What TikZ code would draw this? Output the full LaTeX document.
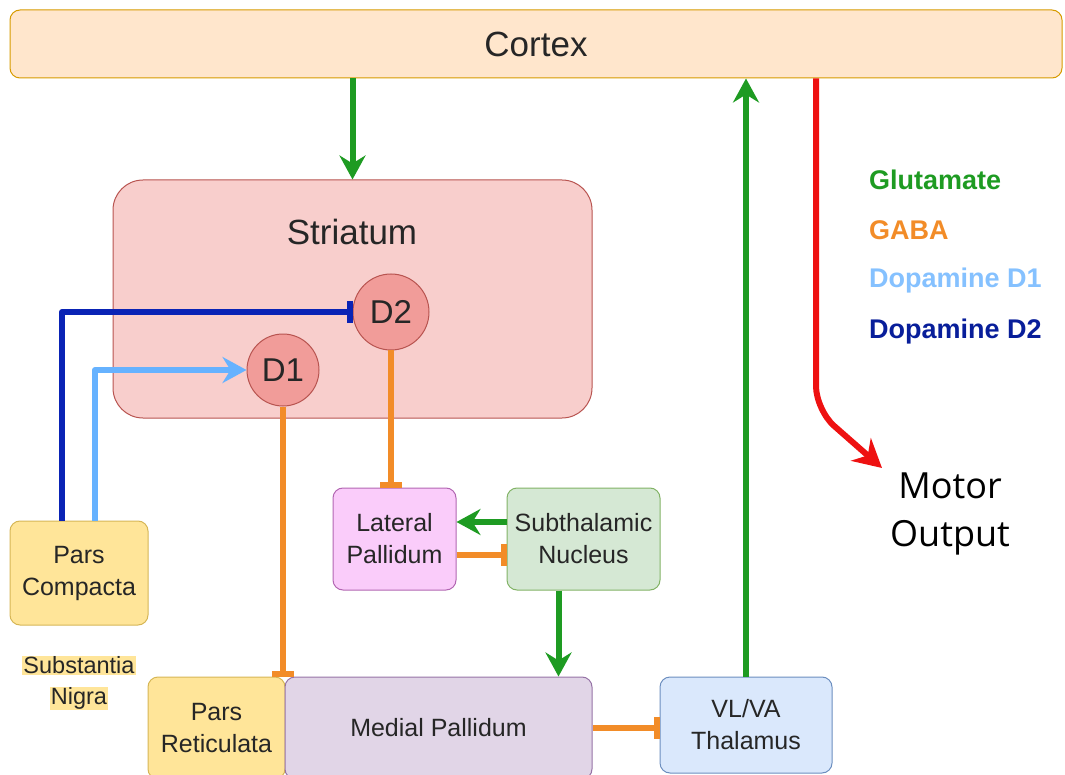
\documentclass[tikz,border=0pt]{standalone}
\usepackage{fontspec}
\setmainfont{Liberation Sans}
\newfontfamily\motorfont{Open Sans}
\usetikzlibrary{arrows.meta}
\definecolor{txt}{HTML}{262626}
\definecolor{cfill}{HTML}{FFE6CC}\definecolor{cline}{HTML}{D79B00}
\definecolor{sfill}{HTML}{F8CECC}\definecolor{sline}{HTML}{B85450}
\definecolor{dfill}{HTML}{F19C99}
\definecolor{yfill}{HTML}{FFE599}\definecolor{yline}{HTML}{D6B656}
\definecolor{mfill}{HTML}{E1D5E7}\definecolor{mline}{HTML}{9673A6}
\definecolor{lfill}{HTML}{FACCFA}\definecolor{lline}{HTML}{B266B2}
\definecolor{tfill}{HTML}{D5E8D4}\definecolor{tline}{HTML}{82B366}
\definecolor{vfill}{HTML}{DAE8FC}\definecolor{vline}{HTML}{6C8EBF}
\definecolor{cglu}{HTML}{1E9B22}
\definecolor{cgaba}{HTML}{F28C28}
\definecolor{cdone}{HTML}{66B2FF}
\definecolor{cdtwo}{HTML}{0A23B5}
\definecolor{cred}{HTML}{EE1111}
\setlength{\fboxsep}{1pt}
\begin{document}
\begin{tikzpicture}[x=1pt, y=-1pt, line join=round,
  box/.style={draw, line width=1pt, rounded corners=10pt, align=center, inner sep=0pt, text=txt, font=\fontsize{25}{32}\selectfont},
  cell/.style={draw=sline, fill=dfill, line width=1pt, circle, inner sep=0pt, text=txt, font=\fontsize{33}{36}\selectfont},
  key/.style={anchor=west, inner sep=0pt, font=\bfseries\fontsize{27}{30}\selectfont},
  glu/.style={draw=cglu, line width=6pt, -{Stealth[length=24pt,width=26pt,inset=8pt]}},
  gaba/.style={draw=cgaba, line width=6pt, -{Bar[width=22pt]}}]
\useasboundingbox (0,0) rectangle (1065,775);
\clip (0,0) rectangle (1065,775);
\node[box, draw=cline, fill=cfill, minimum width=1052pt, minimum height=68pt, font=\fontsize{35}{40}\selectfont] (cortex) at (536,44) {Cortex};
\node[box, draw=sline, fill=sfill, rounded corners=30pt, minimum width=479pt, minimum height=238pt] (striatum) at (352.5,299) {};
\node[text=txt, font=\fontsize{35}{40}\selectfont] (striatumlbl) at (352,232) {Striatum};
\node[cell, minimum size=76pt] (dtwo) at (391,312) {D2};
\node[cell, minimum size=72pt] (done) at (283,370) {D1};
\node[box, draw=yline, fill=yfill, minimum width=138pt, minimum height=104pt] (compacta) at (79,573) {Pars\\Compacta};
\node[text=txt, align=center, inner sep=0pt, font=\fontsize{23.5}{31}\selectfont] (nigra) at (79,683) {\colorbox{yfill}{Substantia}\\\colorbox{yfill}{Nigra}};
\node[box, draw=yline, fill=yfill, minimum width=137pt, minimum height=102pt] (reticulata) at (216.5,728) {Pars\\Reticulata};
\node[box, draw=mline, fill=mfill, minimum width=307pt, minimum height=102pt] (mp) at (438.5,728) {Medial Pallidum};
\node[box, draw=lline, fill=lfill, minimum width=123pt, minimum height=102pt] (lp) at (394.5,539) {Lateral\\Pallidum};
\node[box, draw=tline, fill=tfill, minimum width=153pt, minimum height=102pt] (stn) at (583.5,539) {Subthalamic\\Nucleus};
\node[box, draw=vline, fill=vfill, minimum width=172pt, minimum height=96pt] (thal) at (746,725) {VL/VA\\Thalamus};
\node[align=center, font=\motorfont\fontsize{36}{48}\selectfont] (motor) at (950,514) {Motor\\Output};
% legend
\node[key, text=cglu] (kglu) at (869,180) {Glutamate};
\node[key, text=cgaba] (kgaba) at (869,230) {GABA};
\node[key, text=cdone!80!white] (kdone) at (869,281) {Dopamine D1};
\node[key, text=cdtwo!85!black] (kdtwo) at (869,332) {Dopamine D2};
% pathways
\draw[glu] (cortex.south -| striatum.north) -- (striatum.north);
\draw[glu] (thal.north) -- (thal.north |- cortex.south);
\coordinate (motorin) at (882,468);
\draw[draw=cred, line width=6pt, rounded corners=24pt, -{Stealth[length=28pt,width=30pt,inset=9pt]}] ([xshift=280pt]cortex.south) -- (816,410) -- (motorin);
\draw[draw=cdtwo, line width=6pt, -{Bar[width=22pt]}] ([xshift=-17pt]compacta.north) |- (dtwo.west);
\draw[draw=cdone, line width=6pt, -{Stealth[length=24pt,width=26pt,inset=8pt]}] ([xshift=16pt]compacta.north) |- (done.west);
\draw[gaba] (done.south) -- (done.south |- mp.north);
\draw[gaba] (dtwo.south) -- (dtwo.south |- lp.north);
\draw[glu] ([yshift=17pt]stn.west) -- ([yshift=17pt]stn.west -| lp.east);
\draw[gaba] ([yshift=-16pt]lp.east) -- ([yshift=-16pt]lp.east -| stn.west);
\draw[glu] ([xshift=-25pt]stn.south) -- ([xshift=-25pt]stn.south |- mp.north);
\draw[gaba] (mp.east) -- (mp.east -| thal.west);
\end{tikzpicture}
\end{document}
